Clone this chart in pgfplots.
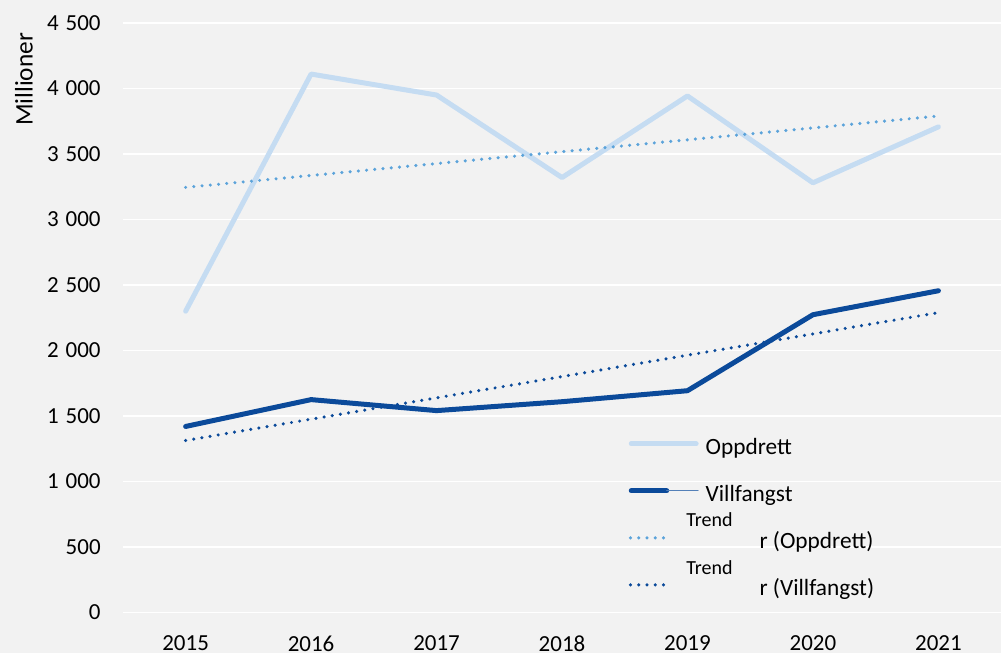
\documentclass[border=0pt]{standalone}
\usepackage{fontspec}
\setmainfont{Carlito}
\usepackage{pgfplots}
\pgfplotsset{compat=1.18}
\definecolor{bg}{HTML}{F2F2F2}
\definecolor{lightblue}{HTML}{C5DCF2}
\definecolor{darkblue}{HTML}{0B4A9A}
\definecolor{trendlight}{HTML}{5BA3DA}
\begin{document}
\begin{tikzpicture}[x=0.75pt,y=0.75pt]
\fill[bg] (-123,-41) rectangle (879,613);
\begin{axis}[
  at={(0,0)}, anchor=south west, scale only axis,
  width=659.25pt, height=442.5pt,
  xmin=2014.5, xmax=2021.5, ymin=0, ymax=4500,
  xtick={2015,2016,2017,2018,2019,2020,2021},
  ytick={0,500,1000,1500,2000,2500,3000,3500,4000,4500},
  axis line style={draw=none},
  tick style={draw=none},
  major tick length=0pt,
  ymajorgrids=true,
  major grid style={white, line width=1.3pt},
  /pgf/number format/assume math mode=true,
  tick label style={font=\fontsize{17.25}{20}\selectfont},
  xticklabel style={anchor=north, inner sep=0pt, yshift=-17.25pt, /pgf/number format/1000 sep={}},
  yticklabel style={anchor=east, inner sep=0pt, xshift=-16.5pt, /pgf/number format/1000 sep={\hspace{0.3em}}},
  ylabel={Millioner},
  ylabel style={at={(rel axis cs:-0.1126,0.9042)}, anchor=center, font=\fontsize{19}{22}\selectfont},
  legend style={at={(rel axis cs:0.5711,0.3)}, anchor=north west, draw=none, fill=none,
    font=\fontsize{17.5}{20}\selectfont, row sep=19.8pt, cells={anchor=west},
    /tikz/every odd column/.append style={column sep=5.25pt},
    nodes={inner sep=0pt, text height=12pt, text depth=3.5pt}},
]
\addplot[lightblue, line width=3.75pt, line join=round, line cap=round,
  legend image code/.code={\draw[lightblue, line width=3.75pt, line cap=round] (1.9pt,3.8pt) -- (50.6pt,3.8pt);}]
  coordinates {(2015,2300) (2016,4110) (2017,3950) (2018,3320) (2019,3943) (2020,3280) (2021,3707)};
\addlegendentry{Oppdrett}
\addplot[darkblue, line width=3.75pt, line join=round, line cap=round,
  legend image code/.code={\draw[darkblue, line width=3.75pt, line cap=round] (1.9pt,3.8pt) -- (28.5pt,3.8pt);
     \draw[darkblue!70, line width=0.9pt] (28.5pt,3.8pt) -- (52pt,3.8pt);}]
  coordinates {(2015,1420) (2016,1625) (2017,1541) (2018,1609) (2019,1693) (2020,2273) (2021,2456)};
\addlegendentry{Villfangst}
\addplot[trendlight, line width=2.6pt, line cap=round, dash pattern=on 0pt off 6.2pt,
  legend image code/.code={\draw[trendlight, line width=2.6pt, line cap=round, dash pattern=on 0pt off 6.2pt] (1.3pt,3.8pt) -- (27pt,3.8pt);}]
  coordinates {(2015,3245) (2021,3790)};
\addlegendentry{\hspace{40.5pt}r (Oppdrett)}
\addplot[darkblue, line width=2.6pt, line cap=round, dash pattern=on 0pt off 6.2pt,
  legend image code/.code={\draw[darkblue, line width=2.6pt, line cap=round, dash pattern=on 0pt off 6.2pt] (1.3pt,3.8pt) -- (27pt,3.8pt);}]
  coordinates {(2015,1313) (2021,2289)};
\addlegendentry{\hspace{40.5pt}r (Villfangst)}
\node[font=\fontsize{15}{18}\selectfont, inner sep=0pt] at (axis cs:2019.175,709) {Trend};
\node[font=\fontsize{15}{18}\selectfont, inner sep=0pt] at (axis cs:2019.175,343) {Trend};
\end{axis}
\end{tikzpicture}
\end{document}
